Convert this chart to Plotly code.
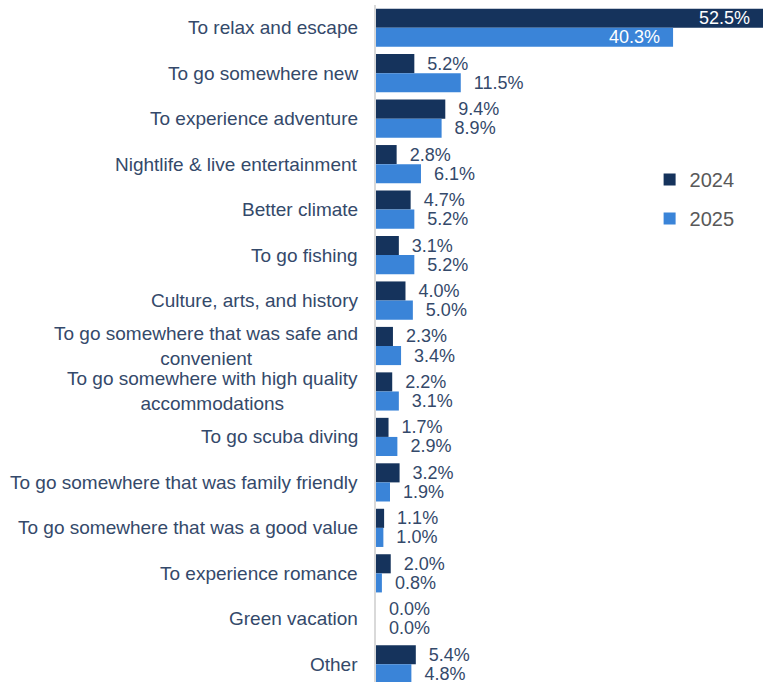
import plotly.graph_objects as go

categories = [
    "To relax and escape",
    "To go somewhere new",
    "To experience adventure",
    "Nightlife & live entertainment",
    "Better climate",
    "To go fishing",
    "Culture, arts, and history",
    "To go somewhere that was safe and<br>convenient",
    "To go somewhere with high quality<br>accommodations",
    "To go scuba diving",
    "To go somewhere that was family friendly",
    "To go somewhere that was a good value",
    "To experience romance",
    "Green vacation",
    "Other",
]
values_2024 = [52.5, 5.2, 9.4, 2.8, 4.7, 3.1, 4.0, 2.3, 2.2, 1.7, 3.2, 1.1, 2.0, 0.0, 5.4]
values_2025 = [40.3, 11.5, 8.9, 6.1, 5.2, 5.2, 5.0, 3.4, 3.1, 2.9, 1.9, 1.0, 0.8, 0.0, 4.8]

COLOR_2024 = "#15335C"
COLOR_2025 = "#3A84D8"
LABEL_COLOR = "#34496A"
FONT = "Liberation Sans, Arial, sans-serif"
NB = "\u00a0\u00a0"
INSIDE_MIN = 30  # values at or above this get their label inside the bar


def bar_text(vals):
    texts, positions = [], []
    for v in vals:
        if v >= INSIDE_MIN:
            texts.append(f"{v:.1f}%" + NB)
            positions.append("inside")
        else:
            texts.append(NB + f"{v:.1f}%")
            positions.append("outside")
    return texts, positions


fig = go.Figure()
for name, vals, color in [("2024", values_2024, COLOR_2024), ("2025", values_2025, COLOR_2025)]:
    texts, positions = bar_text(vals)
    fig.add_trace(go.Bar(
        name=name,
        legendgroup=name,
        y=categories,
        x=vals,
        orientation="h",
        marker=dict(color=color, line=dict(width=0)),
        text=texts,
        textposition=positions,
        insidetextanchor="end",
        insidetextfont=dict(color="white", size=18, family=FONT),
        outsidetextfont=dict(color=LABEL_COLOR, size=18, family=FONT),
        constraintext="none",
        cliponaxis=False,
        hoverinfo="skip",
    ))

# Category labels: right-anchored, multi-line entries centred on each other
for cat in categories:
    fig.add_annotation(
        x=0, xref="paper", y=cat, yref="y",
        text=cat, showarrow=False,
        xanchor="right", yanchor="middle", align="center",
        xshift=-16,
        font=dict(size=19, color=LABEL_COLOR, family=FONT),
    )

fig.update_layout(
    width=763, height=682,
    margin=dict(l=376, r=0, t=5, b=0),
    paper_bgcolor="white", plot_bgcolor="white",
    barmode="group", bargap=0.16, bargroupgap=0,
    font=dict(family=FONT, size=18, color=LABEL_COLOR),
    showlegend=True,
    legend=dict(
        x=0.707, y=0.771, xanchor="left", yanchor="top",
        traceorder="grouped", tracegroupgap=10,
        font=dict(size=20, color="#595959", family=FONT),
        bgcolor="rgba(0,0,0,0)",
    ),
    xaxis=dict(range=[0, 52.5], visible=False, fixedrange=True),
    yaxis=dict(
        type="category", range=[14.39, -0.5],
        showticklabels=False, ticks="",
        showline=True, linecolor="#D9D9D9", linewidth=2,
        showgrid=False, zeroline=False,
    ),
)

fig.write_html("out.html")
